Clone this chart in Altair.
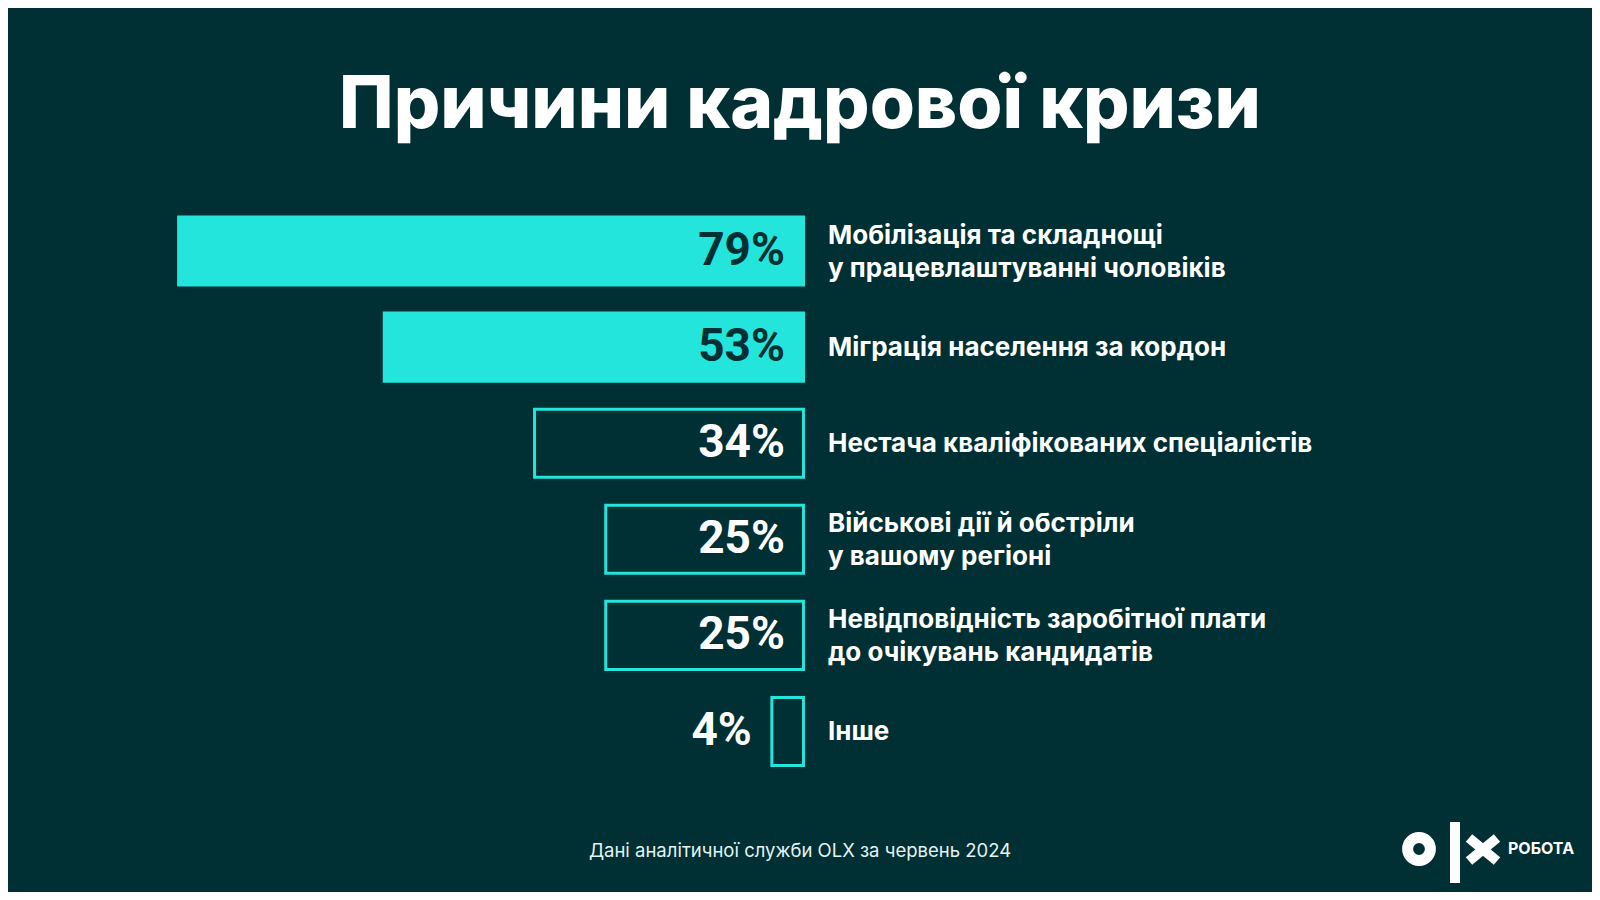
import altair as alt
import pandas as pd

# ---- data ----
categories = [
    "Мобілізація та складнощі\nу працевлаштуванні чоловіків",
    "Міграція населення за кордон",
    "Нестача кваліфікованих спеціалістів",
    "Військові дії й обстріли\nу вашому регіоні",
    "Невідповідність заробітної плати\nдо очікувань кандидатів",
    "Інше",
]
values = [79, 53, 34, 25, 25, 4]
filled = [True, True, False, False, False, False]
value_labels = ["79%", "53%", "34%", "25%", "25%", "4%"]

title_text = "Причини кадрової кризи"
source_text = "Дані аналітичної служби OLX за червень 2024"
brand_text = "РОБОТА"

BG = "#002F34"
TEAL = "#23E5DB"
FONT = "Inter"
NUMFONT = "Roboto"

df = pd.DataFrame({
    "cat": categories,
    "value": values,
    "filled": filled,
    "label": value_labels,
})

xscale = alt.Scale(domain=[0, 100], range=[795.5, 4.5])
yenc = alt.Y("cat:N", sort=None, axis=None,
             scale=alt.Scale(range=[209, 757.5], paddingInner=0.292, paddingOuter=0))

base = alt.Chart(df)

bars = base.mark_bar(stroke=TEAL, strokeWidth=3, cornerRadius=0).encode(
    x=alt.X("value:Q", scale=xscale, axis=None),
    x2=alt.value(791.5),
    y=yenc,
    fill=alt.condition("datum.filled", alt.value(TEAL), alt.value(BG)),
)

inside = base.transform_filter("datum.value >= 10").mark_text(
    align="right", baseline="middle", fontSize=46, fontWeight="bold", font=NUMFONT
).encode(
    x=alt.value(777),
    y=yenc,
    text="label:N",
    color=alt.condition("datum.filled", alt.value(BG), alt.value("white")),
)

outside = base.transform_filter("datum.value < 10").mark_text(
    align="right", baseline="middle", dx=-20, fontSize=46, fontWeight="bold", font=NUMFONT,
    color="white"
).encode(
    x=alt.X("value:Q"),
    y=yenc,
    text="label:N",
)

label_style = dict(align="left", baseline="middle", lineBreak="\n", lineHeight=32.5,
                   fontSize=26, fontWeight="bold", font=FONT, color="white")

labels_one = base.transform_filter("indexof(datum.cat, '\\n') < 0").mark_text(
    dy=1, **label_style
).encode(x=alt.value(820), y=yenc, text="cat:N")

labels_two = base.transform_filter("indexof(datum.cat, '\\n') >= 0").mark_text(
    dy=-15, **label_style
).encode(x=alt.value(820), y=yenc, text="cat:N")

title = alt.Chart(pd.DataFrame({"t": [title_text]})).mark_text(
    align="center", baseline="alphabetic", fontSize=73, fontWeight=800,
    font=FONT, color="white"
).encode(x=alt.value(792), y=alt.value(120), text="t:N")

src = alt.Chart(pd.DataFrame({"t": [source_text]})).mark_text(
    align="center", baseline="alphabetic", fontSize=18.5, font=FONT, color="#e4f4f2"
).encode(x=alt.value(792), y=alt.value(849), text="t:N")

# ---- OLX logo ----
ring = alt.Chart(pd.DataFrame({"t": [0]})).mark_point(
    shape="circle", filled=False, size=520, strokeWidth=11, color="white", opacity=1
).encode(x=alt.value(1411), y=alt.value(841))

bar_l = alt.Chart(pd.DataFrame({"t": [0]})).mark_rect(color="white").encode(
    x=alt.value(1442), x2=alt.value(1452), y=alt.value(814), y2=alt.value(875)
)

cross1 = alt.Chart(pd.DataFrame({"t": [0]})).mark_rule(
    color="white", strokeWidth=10, strokeCap="butt"
).encode(x=alt.value(1461), x2=alt.value(1489), y=alt.value(830), y2=alt.value(853))
cross2 = alt.Chart(pd.DataFrame({"t": [0]})).mark_rule(
    color="white", strokeWidth=10, strokeCap="butt"
).encode(x=alt.value(1461), x2=alt.value(1489), y=alt.value(853), y2=alt.value(830))

brand = alt.Chart(pd.DataFrame({"t": [brand_text]})).mark_text(
    align="left", baseline="middle", fontSize=16, fontWeight="bold", font=FONT, color="white"
).encode(x=alt.value(1500), y=alt.value(841), text="t:N")

chart = alt.layer(
    bars, inside, outside, labels_one, labels_two, title, src,
    ring, bar_l, cross1, cross2, brand
).properties(
    width=1584, height=884, background=BG, padding=0,
    autosize=alt.AutoSizeParams(type="none"),
).configure_view(stroke=None)

chart.save("out.html", embed_options={"renderer": "svg", "actions": False})
